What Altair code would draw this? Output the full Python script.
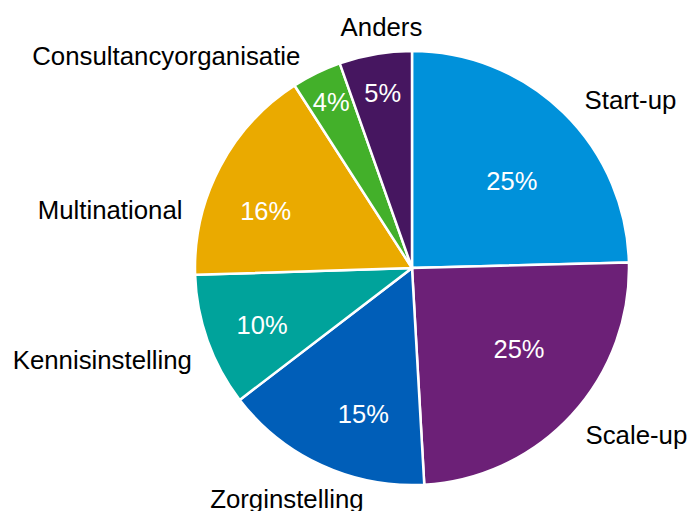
import altair as alt
import pandas as pd

categories = ["Start-up", "Scale-up", "Zorginstelling", "Kennisinstelling",
              "Multinational", "Consultancyorganisatie", "Anders"]
shares = [24.6, 24.5, 15.5, 9.9, 16.4, 3.7, 5.4]
pct_labels = ["25%", "25%", "15%", "10%", "16%", "4%", "5%"]
colors = ["#0091da", "#6c2077", "#005eb8", "#00a39b", "#eaaa00", "#43b02a", "#461660"]

df = pd.DataFrame({
    "cat": categories,
    "share": shares,
    "pct": pct_labels,
    "idx": list(range(len(categories))),
})

CX, CY = 412, 268
FONT = "Liberation Sans"
FS = 25.8

base = alt.Chart(df).encode(
    theta=alt.Theta("share:Q").stack(True),
    order=alt.Order("idx:Q"),
    x=alt.value(CX),
    y=alt.value(CY),
)

pie = base.mark_arc(outerRadius=217, stroke="white", strokeWidth=2.5).encode(
    color=alt.Color("cat:N", scale=alt.Scale(domain=categories, range=colors), legend=None)
)

radius_scale = alt.Scale(type="linear", domain=[4, 25], range=[183, 132], zero=False)

# inner percentage label nudges: (dx, dy) relative to the mid-angle anchor
inner_style = {
    "Start-up": (7, 9),
    "Scale-up": (9, -8),
    "Zorginstelling": (16, 6),
    "Kennisinstelling": (9, 1),
    "Multinational": (-11, 15),
    "Consultancyorganisatie": (0, 0),
    "Anders": (1, 3),
}

# outer category label style: (align, dx, dy) relative to the mid-angle anchor
label_style = {
    "Start-up": ("left", 5, 5),
    "Scale-up": ("left", -3, 5),
    "Zorginstelling": ("center", -25, 14),
    "Kennisinstelling": ("right", 6, 12),
    "Multinational": ("right", -17, 55),
    "Consultancyorganisatie": ("right", -6, 5),
    "Anders": ("center", 10, -3),
}

layers = [pie]
for name, (ddx, ddy) in inner_style.items():
    layers.append(
        base.mark_text(font=FONT, fontSize=25.5, color="white", baseline="middle",
                       align="center", dx=ddx, dy=ddy).encode(
            radius=alt.Radius("share:Q", scale=radius_scale),
            text=alt.condition(f"datum.cat === '{name}'", alt.Text("pct:N"), alt.value("")),
        )
    )

for name, (al, ddx, ddy) in label_style.items():
    layers.append(
        base.mark_text(radius=240, font=FONT, fontSize=FS, color="black",
                       align=al, baseline="middle", dx=ddx, dy=ddy).encode(
            text=alt.condition(f"datum.cat === '{name}'", alt.Text("cat:N"), alt.value(""))
        )
    )

chart = alt.layer(*layers).properties(
    width=689, height=511, padding=0, autosize=alt.AutoSizeParams(type="none")
).configure_view(stroke=None)

chart.save("out.html", embed_options={"renderer": "svg", "actions": False})
